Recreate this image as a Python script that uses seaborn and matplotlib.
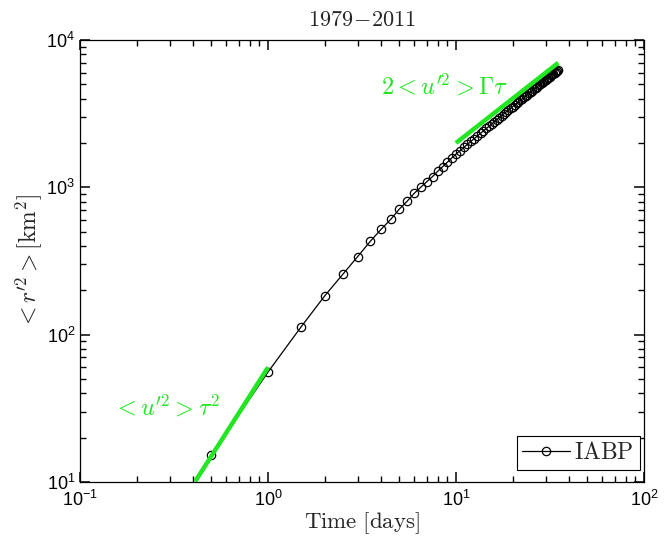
import numpy as np
import pandas as pd
import matplotlib
matplotlib.use("Agg")
import matplotlib.pyplot as plt
from matplotlib.ticker import FixedLocator, NullFormatter
import seaborn as sns

# ---- data ----
time_days = [0.5 * k for k in range(1, 71)]  # 0.5 ... 35 days
r2_km2 = [
    15.2, 55.8, 113, 183, 257, 339, 430, 520, 607, 713,
    805, 912, 1002, 1094, 1183, 1286, 1383, 1481, 1584, 1680,
    1770, 1865, 1955, 2050, 2140, 2235, 2325, 2420, 2510, 2600,
    2695, 2785, 2880, 2970, 3065, 3155, 3250, 3340, 3430, 3525,
    3615, 3710, 3800, 3895, 3985, 4080, 4170, 4260, 4355, 4445,
    4540, 4630, 4725, 4815, 4910, 5000, 5090, 5185, 5275, 5370,
    5460, 5555, 5645, 5740, 5830, 5920, 6015, 6105, 6200, 6290,
]
ballistic_t = [0.41, 1.0]
ballistic_y = [10.1, 60.0]
diffusive_t = [10.0, 35.0]
diffusive_y = [2000.0, 7000.0]

series_label = r"$\mathrm{IABP}$"

sns.set_style("ticks")
plt.rcParams.update({
    "mathtext.fontset": "cm",
    "font.family": ["Liberation Sans", "DejaVu Sans"],
})

fig = plt.figure(figsize=(6.67, 5.38), dpi=100)
ax = fig.add_axes([0.12, 0.1041, 0.8455, 0.8216])

df = pd.DataFrame({"t": time_days, "r2": r2_km2})
green = "#22e622"
sns.lineplot(data=df, x="t", y="r2", ax=ax, color="black", lw=0.9,
             marker="o", markersize=6, markerfacecolor="none",
             markeredgecolor="black", markeredgewidth=0.9,
             label=series_label)
ax.plot(ballistic_t, ballistic_y, color=green, lw=3.2, solid_capstyle="butt")
ax.plot(diffusive_t, diffusive_y, color=green, lw=3.2, solid_capstyle="butt")

ax.set_xscale("log")
ax.set_yscale("log")
ax.set_xlim(0.1, 100)
ax.set_ylim(10, 1e4)
xminor = [m * 10.0 ** e for e in (-1, 0, 1) for m in range(2, 10)]
yminor = [m * 10.0 ** e for e in (1, 2, 3) for m in range(2, 10)]
ax.xaxis.set_minor_locator(FixedLocator(xminor))
ax.yaxis.set_minor_locator(FixedLocator(yminor))
ax.xaxis.set_minor_formatter(NullFormatter())
ax.yaxis.set_minor_formatter(NullFormatter())

ax.text(0.150, 28.5, r"$<u^{\prime 2}>\tau^2$", color=green, fontsize=17.5)
ax.text(8.73, 4240, r"$2<u^{\prime 2}>\Gamma\tau$", color=green, fontsize=17.5, ha="center")

ax.set_title(r"$\mathrm{1979\!-\!2011}$", fontsize=16, pad=10)
ax.set_xlabel(r"$\mathrm{Time\ [days]}$", fontsize=16.5, labelpad=0)
ax.set_ylabel(r"$<r^{\prime 2}>[\mathrm{km}^2]$", fontsize=17, labelpad=2)

for s in ax.spines.values():
    s.set_color("black")
    s.set_linewidth(0.9)

leg = ax.legend(loc="lower right", bbox_to_anchor=(0.993, 0.027),
                fancybox=False, edgecolor="black", framealpha=1,
                prop={"size": 17},
                handlelength=2.0, borderpad=0.25, handletextpad=0.2,
                borderaxespad=0.0)
leg.get_frame().set_linewidth(0.8)

ax.tick_params(which="both", direction="in", top=True, right=True,
               bottom=True, left=True, colors="black")
ax.tick_params(which="major", length=7, width=1.1, labelsize=13)
ax.tick_params(axis="x", which="major", pad=6)
ax.tick_params(which="minor", length=4.5, width=1.0)

fig.savefig("out.png", dpi=100)
